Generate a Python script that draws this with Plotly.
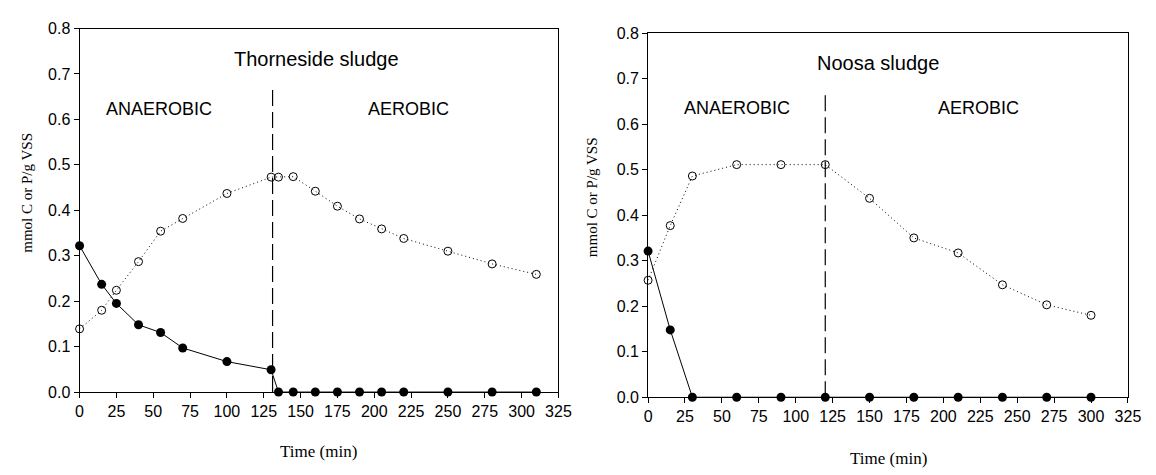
import plotly.graph_objects as go

# Thorneside sludge
t_time = [0, 15, 25, 40, 55, 70, 100, 130, 135, 145, 160, 175, 190, 205, 220, 250, 280, 310]
t_carbon = [0.322, 0.237, 0.195, 0.148, 0.131, 0.097, 0.067, 0.049,
            0, 0, 0, 0, 0, 0, 0, 0, 0, 0]
t_phos = [0.139, 0.180, 0.224, 0.287, 0.354, 0.382, 0.437, 0.473,
          0.473, 0.474, 0.442, 0.409, 0.381, 0.359, 0.338, 0.310, 0.282, 0.259]
t_switch = 131

# Noosa sludge
n_time = [0, 15, 30, 60, 90, 120, 150, 180, 210, 240, 270, 300]
n_carbon = [0.321, 0.148, 0, 0, 0, 0, 0, 0, 0, 0, 0, 0]
n_phos = [0.257, 0.377, 0.486, 0.511, 0.511, 0.511, 0.437, 0.350, 0.317, 0.247, 0.203, 0.180]
n_switch = 120

x_ticks = [0, 25, 50, 75, 100, 125, 150, 175, 200, 225, 250, 275, 300, 325]
y_ticks = [0.0, 0.1, 0.2, 0.3, 0.4, 0.5, 0.6, 0.7, 0.8]
y_tick_text = ["%.1f" % v for v in y_ticks]

W, H = 1156, 475
SANS = "Liberation Sans, Arial, sans-serif"
SERIF = "Liberation Serif, Times New Roman, serif"

fig = go.Figure()


def add_panel(xa, ya, time, carbon, phos, switch):
    xref = "x" if xa == 1 else "x%d" % xa
    yref = "y" if ya == 1 else "y%d" % ya
    # phase boundary
    fig.add_trace(go.Scatter(
        x=[switch, switch], y=[0, 0.67], mode="lines",
        line=dict(color="black", width=1.2, dash="16px,6px"),
        xaxis=xref, yaxis=yref, showlegend=False, hoverinfo="skip"))
    fig.add_trace(go.Scatter(
        x=time, y=phos, mode="lines+markers",
        line=dict(color="black", width=1, dash="1px,3px"),
        marker=dict(symbol="circle-open", size=8, color="black", line=dict(width=1)),
        xaxis=xref, yaxis=yref, showlegend=False, cliponaxis=False))
    fig.add_trace(go.Scatter(
        x=time, y=carbon, mode="lines+markers",
        line=dict(color="black", width=1),
        marker=dict(symbol="circle", size=9, color="black"),
        xaxis=xref, yaxis=yref, showlegend=False, cliponaxis=False))


add_panel(1, 1, t_time, t_carbon, t_phos, t_switch)
add_panel(2, 2, n_time, n_carbon, n_phos, n_switch)

axis_common = dict(
    showgrid=False, zeroline=False, showline=True, linecolor="black", linewidth=1,
    mirror=True, ticks="outside", ticklen=5, tickwidth=1, tickcolor="black",
    tickfont=dict(family=SANS, size=16, color="black"),
)

# pixel boxes of the two plot areas
left = dict(x0=76.7, x1=562.7, y0=21.3, y1=398.3)
right = dict(x0=653.7, x1=1140.7, y0=26.0, y1=403.7)


def xdom(b):
    return [b["x0"] / W, b["x1"] / W]


def ydom(b):
    return [1 - b["y1"] / H, 1 - b["y0"] / H]


fig.update_layout(
    width=W, height=H,
    margin=dict(l=0, r=0, t=0, b=0),
    paper_bgcolor="white", plot_bgcolor="white",
    xaxis=dict(domain=xdom(left), range=[0, 325], tickvals=x_ticks, anchor="y", **axis_common),
    yaxis=dict(domain=ydom(left), range=[0, 0.8], tickvals=y_ticks, ticktext=y_tick_text,
               anchor="x", **axis_common),
    xaxis2=dict(domain=xdom(right), range=[0, 325], tickvals=x_ticks, anchor="y2", **axis_common),
    yaxis2=dict(domain=ydom(right), range=[0, 0.8], tickvals=y_ticks, ticktext=y_tick_text,
                anchor="x2", **axis_common),
)


def label(x, y, xref, yref, text, family, size, angle=0):
    return dict(x=x, y=y, xref=xref, yref=yref, text=text, textangle=angle,
                xanchor="center", yanchor="middle", showarrow=False,
                font=dict(family=family, size=size, color="black"))


ann = [
    # panel captions
    label(161, 0.733, "x", "y", "Thorneside sludge", SANS, 20),
    label(54, 0.623, "x", "y", "ANAEROBIC", SANS, 18),
    label(223, 0.623, "x", "y", "AEROBIC", SANS, 18),
    label(156, 0.735, "x2", "y2", "Noosa sludge", SANS, 20),
    label(60, 0.635, "x2", "y2", "ANAEROBIC", SANS, 18),
    label(224, 0.635, "x2", "y2", "AEROBIC", SANS, 18),
    # axis titles
    label(319 / W, 1 - 460 / H, "paper", "paper", "Time (min)", SERIF, 17),
    label(898 / W, 1 - 467 / H, "paper", "paper", "Time (min)", SERIF, 17),
    label(23 / W, 1 - 192 / H, "paper", "paper", "mmol C or P/g VSS", SERIF, 15, -90),
    label(597 / W, 1 - 196 / H, "paper", "paper", "mmol C or P/g VSS", SERIF, 15, -90),
]

fig.update_layout(annotations=ann)

fig.write_html("out.html")
